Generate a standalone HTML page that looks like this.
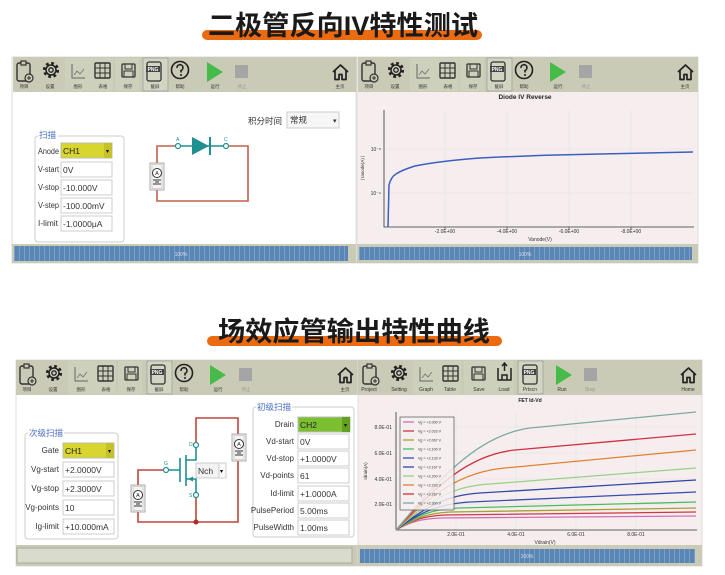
<!DOCTYPE html>
<html><head><meta charset="utf-8"><style>
html,body{margin:0;padding:0;background:#fff;}
svg{display:block;font-family:"Liberation Sans","Noto Sans CJK SC",sans-serif;}
</style></head><body>
<svg width="725" height="575" viewBox="0 0 725 575" xmlns="http://www.w3.org/2000/svg">
<defs>
<pattern id="stripe" x="0" y="0" width="5" height="20" patternUnits="userSpaceOnUse">
<rect width="5" height="20" fill="#5a86b6"/><rect x="4" width="1" height="20" fill="#7aa0c8"/>
</pattern>
<g id="ic1">
 <rect x="0" y="3" width="13" height="18" rx="2" fill="none" stroke="#333" stroke-width="1.4"/>
 <rect x="4" y="1" width="5" height="4" fill="#c9cbb6" stroke="#333" stroke-width="1.2"/>
 <circle cx="12" cy="18" r="4" fill="#c9cbb6" stroke="#333" stroke-width="1.2"/>
 <path d="M10,18h4M12,16v4" stroke="#333" stroke-width="1"/>
</g>
<g id="ic2">
 <circle cx="8" cy="10" r="6.5" fill="none" stroke="#222" stroke-width="3.2" stroke-dasharray="2.6 2.5"/>
 <circle cx="8" cy="10" r="5" fill="none" stroke="#222" stroke-width="1.5"/>
 <circle cx="8" cy="10" r="2.2" fill="none" stroke="#222" stroke-width="1.3"/>
</g>
<g id="ic3">
 <path d="M1,3v14h13" fill="none" stroke="#666" stroke-width="1"/>
 <path d="M3,14l3,-4l3,3l4,-5" fill="none" stroke="#777" stroke-width="0.9"/>
</g>
<g id="ic4">
 <rect x="0" y="2" width="15" height="15" rx="1" fill="none" stroke="#333" stroke-width="1.4"/>
 <path d="M5,2v15M10,2v15M0,7h15M0,12h15" stroke="#333" stroke-width="1"/>
</g>
<g id="ic5">
 <rect x="0" y="3" width="13" height="13" rx="1" fill="none" stroke="#333" stroke-width="1.3"/>
 <rect x="3" y="3" width="7" height="5" fill="none" stroke="#333" stroke-width="1"/>
 <rect x="2" y="10" width="9" height="6" fill="none" stroke="#333" stroke-width="1"/>
</g>
<g id="ic7">
 <circle cx="10" cy="10" r="8.5" fill="none" stroke="#222" stroke-width="1.6"/>
 <path d="M7,8a3,3 0 1,1 4,2.5v2" fill="none" stroke="#222" stroke-width="1.6"/>
 <circle cx="11" cy="15" r="1" fill="#222"/>
</g>
<g id="home">
 <path d="M1,9l7.5,-7l7.5,7M3,7.5v9h4v-5h3v5h4v-9" fill="none" stroke="#222" stroke-width="1.7" stroke-linejoin="round"/>
</g>
<g id="amm">
 <rect x="0" y="0" width="14" height="27" fill="#f4f4f4" stroke="#999" stroke-width="0.8"/>
 <rect x="2" y="1.5" width="10" height="24" fill="none" stroke="#bbb" stroke-width="0.6"/>
 <circle cx="7" cy="10" r="4.5" fill="#fff" stroke="#333" stroke-width="1"/>
 <path d="M3,17h8M5,19h4M3,21h8" stroke="#333" stroke-width="0.9"/>
</g>
</defs>

<!-- titles -->
<rect x="202" y="30" width="280" height="10" rx="5" fill="#ec6a10"/>
<text x="208" y="35" font-size="27" font-weight="bold" fill="#1a1a1a" textLength="270" lengthAdjust="spacingAndGlyphs">二极管反向IV特性测试</text>
<rect x="207" y="336" width="295" height="10" rx="5" fill="#ec6a10"/>
<text x="218" y="341" font-size="27" font-weight="bold" fill="#1a1a1a" textLength="272" lengthAdjust="spacingAndGlyphs">场效应管输出特性曲线</text>

<!-- ============ TOP LEFT ============ -->
<rect x="12" y="57" width="344" height="206" fill="#fff" stroke="#ddd"/>
<g transform="translate(13,57)">
 <rect width="344" height="35" fill="#c9cbb6"/>
 <rect x="52" y="1" width="48" height="33" fill="#cdd0bb"/>
 <rect x="102" y="1" width="24" height="33" fill="#cdd0bb"/>
 <rect x="130" y="1" width="25" height="33" fill="#d3d5c3" stroke="#999" stroke-width="0.7"/>
 <use href="#ic1" x="4" y="3"/><use href="#ic2" x="30" y="3"/><use href="#ic3" x="58" y="4"/><use href="#ic4" x="82" y="4"/><use href="#ic5" x="109" y="4"/>
 <rect x="134" y="5" width="14" height="19" rx="2" fill="none" stroke="#333" stroke-width="1.3"/><rect x="133" y="9" width="14" height="6" fill="#444"/><text x="140" y="14" font-size="5" fill="#fff" text-anchor="middle" font-weight="bold">PNG</text>
 <use href="#ic7" x="157" y="3"/>
 <polygon points="194,5 194,25 210,15" fill="#47bb4a"/>
 <rect x="222" y="8" width="13" height="13" fill="#a5a5a5"/>
 <use href="#home" x="319" y="6"/>
 <g font-size="4.5" fill="#333" text-anchor="middle">
  <text x="11" y="31">项目</text><text x="37" y="31">设置</text><text x="65" y="31">图形</text><text x="90" y="31">表格</text><text x="115" y="31">保存</text><text x="142" y="31">截屏</text><text x="167" y="31">帮助</text><text x="202" y="31">运行</text><text x="229" y="31" fill="#999">停止</text><text x="327" y="31">主页</text>
 </g>
</g>
<text x="248" y="124" font-size="8.5" fill="#333">积分时间</text>
<rect x="287" y="112" width="52" height="16" fill="#f6f6f6" stroke="#ccc"/><text x="290" y="123" font-size="8.5" fill="#333">常规</text><text x="333" y="123" font-size="7" fill="#333">▾</text>
<rect x="35" y="136" width="89" height="106" rx="3" fill="#fff" stroke="#ccc"/>
<rect x="38" y="130" width="20" height="10" fill="#fff"/><text x="39" y="138" font-size="8.5" fill="#4a6fc0">扫描</text>
<g font-size="8" fill="#333" lengthAdjust="spacingAndGlyphs">
 <text x="38" y="154" textLength="21" lengthAdjust="spacingAndGlyphs">Anode</text><text x="38" y="172" textLength="21" lengthAdjust="spacingAndGlyphs">V-start</text><text x="38" y="190" textLength="21" lengthAdjust="spacingAndGlyphs">V-stop</text><text x="38" y="208" textLength="21" lengthAdjust="spacingAndGlyphs">V-step</text><text x="38" y="226" textLength="20" lengthAdjust="spacingAndGlyphs">I-limit</text>
</g>
<rect x="61" y="143" width="51" height="15" fill="#d8d62e" stroke="#bbb"/><rect x="104" y="143" width="8" height="15" fill="#c4c228"/><text x="63" y="154" font-size="8.5" fill="#222">CH1</text><text x="106" y="153" font-size="6">▾</text>
<g fill="#fff" stroke="#ccc"><rect x="61" y="162" width="51" height="15"/><rect x="61" y="180" width="51" height="15"/><rect x="61" y="198" width="51" height="15"/><rect x="61" y="216" width="51" height="15"/></g>
<g font-size="8.5" fill="#333"><text x="63" y="173">0V</text><text x="63" y="191">-10.000V</text><text x="63" y="209">-100.00mV</text><text x="63" y="227">-1.0000μA</text></g>
<!-- diode circuit -->
<path d="M178,146H157V201H248V146H226" fill="none" stroke="#c0604a" stroke-width="1.6"/>
<path d="M178,146H226" stroke="#1e9090" stroke-width="1.6"/>
<polygon points="192,137 192,155 209,146" fill="#1e9090"/><path d="M210,137v18" stroke="#1e9090" stroke-width="2"/>
<circle cx="178" cy="146" r="2.5" fill="#fff" stroke="#1e9090" stroke-width="1.2"/><circle cx="226" cy="146" r="2.5" fill="#fff" stroke="#1e9090" stroke-width="1.2"/>
<text x="176" y="141" font-size="5" fill="#1e9090">A</text><text x="224" y="141" font-size="5" fill="#1e9090">C</text>
<use href="#amm" x="150" y="163"/><text x="157" y="175" font-size="5.5" text-anchor="middle" fill="#222">A</text>
<rect x="12" y="244" width="344" height="19" fill="#c9cbb6"/>
<rect x="14" y="246" width="334" height="15" fill="url(#stripe)"/><text x="181" y="256" font-size="5" fill="#dde" text-anchor="middle">100%</text>

<!-- ============ TOP RIGHT ============ -->
<rect x="357" y="57" width="341" height="206" fill="#f6eeee" stroke="#ddd"/>
<g transform="translate(358,57)">
 <rect width="340" height="35" fill="#c9cbb6"/>
 <rect x="52" y="1" width="48" height="33" fill="#cdd0bb"/>
 <rect x="102" y="1" width="24" height="33" fill="#cdd0bb"/>
 <rect x="129" y="1" width="25" height="33" fill="#d3d5c3" stroke="#999" stroke-width="0.7"/>
 <use href="#ic1" x="4" y="3"/><use href="#ic2" x="30" y="3"/><use href="#ic3" x="58" y="4"/><use href="#ic4" x="82" y="4"/><use href="#ic5" x="109" y="4"/>
 <rect x="133" y="5" width="14" height="19" rx="2" fill="none" stroke="#333" stroke-width="1.3"/><rect x="132" y="9" width="14" height="6" fill="#444"/><text x="139" y="14" font-size="5" fill="#fff" text-anchor="middle" font-weight="bold">PNG</text>
 <use href="#ic7" x="156" y="3"/>
 <polygon points="192,5 192,25 208,15" fill="#47bb4a"/>
 <rect x="221" y="8" width="13" height="13" fill="#a5a5a5"/>
 <use href="#home" x="319" y="6"/>
 <g font-size="4.5" fill="#333" text-anchor="middle">
  <text x="11" y="31">项目</text><text x="37" y="31">设置</text><text x="65" y="31">图形</text><text x="90" y="31">表格</text><text x="115" y="31">保存</text><text x="141" y="31">截屏</text><text x="166" y="31">帮助</text><text x="200" y="31">运行</text><text x="228" y="31" fill="#999">停止</text><text x="327" y="31">主页</text>
 </g>
</g>
<text x="525" y="99" font-size="6.5" font-weight="bold" fill="#222" text-anchor="middle">Diode IV Reverse</text>
<g stroke="#e6e0e0" stroke-width="0.6"><path d="M445,110V227M507,110V227M569,110V227M631,110V227M384,149H693M384,193H693"/></g>
<path d="M384,110V227H694" fill="none" stroke="#333" stroke-width="0.8"/>
<g stroke="#333" stroke-width="0.6"><path d="M445,227v3M507,227v3M569,227v3M631,227v3"/></g>
<g font-size="5" fill="#333" text-anchor="middle"><text x="445" y="233">-2.0E+00</text><text x="507" y="233">-4.0E+00</text><text x="569" y="233">-6.0E+00</text><text x="631" y="233">-8.0E+00</text><text x="540" y="241">Vanode(V)</text></g>
<g font-size="5" fill="#333" text-anchor="end"><text x="381" y="151">10⁻⁸</text><text x="381" y="195">10⁻⁹</text></g>
<text x="364" y="168" font-size="4.5" fill="#333" transform="rotate(-90 364 168)" text-anchor="middle">| Ianode(A) |</text>
<path d="M388,227L389,185Q391,177 396,174Q402,170 415,166Q440,161 480,158Q540,155 600,154Q650,153 693,152" fill="none" stroke="#3b5fc0" stroke-width="1.5"/>
<rect x="357" y="244" width="341" height="19" fill="#c9cbb6"/>
<rect x="359" y="247" width="333" height="13" fill="url(#stripe)"/><text x="525" y="256" font-size="5" fill="#dde" text-anchor="middle">100%</text>

<!-- ============ BOTTOM LEFT ============ -->
<rect x="16" y="360" width="342" height="206" fill="#fff" stroke="#ddd"/>
<g transform="translate(16,360)">
 <rect width="342" height="35" fill="#c9cbb6"/>
 <rect x="52" y="1" width="48" height="33" fill="#cdd0bb"/>
 <rect x="102" y="1" width="24" height="33" fill="#cdd0bb"/>
 <rect x="131" y="1" width="25" height="33" fill="#d3d5c3" stroke="#999" stroke-width="0.7"/>
 <use href="#ic1" x="4" y="3"/><use href="#ic2" x="30" y="3"/><use href="#ic3" x="58" y="4"/><use href="#ic4" x="82" y="4"/><use href="#ic5" x="109" y="4"/>
 <rect x="135" y="5" width="14" height="19" rx="2" fill="none" stroke="#333" stroke-width="1.3"/><rect x="134" y="9" width="14" height="6" fill="#444"/><text x="141" y="14" font-size="5" fill="#fff" text-anchor="middle" font-weight="bold">PNG</text>
 <use href="#ic7" x="158" y="3"/>
 <polygon points="194,5 194,25 210,15" fill="#47bb4a"/>
 <rect x="223" y="8" width="13" height="13" fill="#a5a5a5"/>
 <use href="#home" x="321" y="6"/>
 <g font-size="4.5" fill="#333" text-anchor="middle">
  <text x="11" y="31">项目</text><text x="37" y="31">设置</text><text x="65" y="31">图形</text><text x="90" y="31">表格</text><text x="115" y="31">保存</text><text x="143" y="31">截屏</text><text x="168" y="31">帮助</text><text x="202" y="31">运行</text><text x="230" y="31" fill="#999">停止</text><text x="329" y="31">主页</text>
 </g>
</g>
<!-- 次级扫描 -->
<rect x="25" y="433" width="93" height="106" rx="3" fill="#fff" stroke="#ccc"/>
<rect x="28" y="427" width="36" height="10" fill="#fff"/><text x="29" y="436" font-size="8.5" fill="#4a6fc0">次级扫描</text>
<g font-size="8" fill="#333" text-anchor="end">
 <text x="59" y="453">Gate</text><text x="59" y="472">Vg-start</text><text x="59" y="491">Vg-stop</text><text x="59" y="510">Vg-points</text><text x="59" y="529">Ig-limit</text>
</g>
<rect x="63" y="443" width="51" height="15" fill="#d8d62e" stroke="#bbb"/><rect x="106" y="443" width="8" height="15" fill="#c4c228"/><text x="65" y="454" font-size="8.5" fill="#222">CH1</text><text x="108" y="453" font-size="6">▾</text>
<g fill="#fff" stroke="#ccc"><rect x="63" y="462" width="51" height="15"/><rect x="63" y="481" width="51" height="15"/><rect x="63" y="500" width="51" height="15"/><rect x="63" y="519" width="51" height="15"/></g>
<g font-size="8.5" fill="#333"><text x="65" y="473">+2.0000V</text><text x="65" y="492">+2.3000V</text><text x="65" y="511">10</text><text x="65" y="530">+10.000mA</text></g>
<!-- 初级扫描 -->
<rect x="253" y="407" width="101" height="130" rx="3" fill="#fff" stroke="#ccc"/>
<rect x="256" y="401" width="36" height="10" fill="#fff"/><text x="257" y="410" font-size="8.5" fill="#4a6fc0">初级扫描</text>
<g font-size="8" fill="#333" text-anchor="end">
 <text x="294" y="427">Drain</text><text x="294" y="444">Vd-start</text><text x="294" y="461">Vd-stop</text><text x="294" y="478">Vd-points</text><text x="294" y="496">Id-limit</text><text x="294" y="513">PulsePeriod</text><text x="294" y="530">PulseWidth</text>
</g>
<rect x="298" y="417" width="52" height="15" fill="#7cc032" stroke="#bbb"/><rect x="342" y="417" width="8" height="15" fill="#62a020"/><text x="300" y="428" font-size="8.5" fill="#222">CH2</text><text x="344" y="427" font-size="6">▾</text>
<g fill="#fff" stroke="#ccc"><rect x="298" y="434" width="51" height="15"/><rect x="298" y="451" width="51" height="15"/><rect x="298" y="468" width="51" height="15"/><rect x="298" y="486" width="51" height="15"/><rect x="298" y="503" width="51" height="15"/><rect x="298" y="520" width="51" height="15"/></g>
<g font-size="8.5" fill="#333"><text x="300" y="445">0V</text><text x="300" y="462">+1.0000V</text><text x="300" y="479">61</text><text x="300" y="497">+1.0000A</text><text x="300" y="514">5.00ms</text><text x="300" y="531">1.00ms</text></g>
<!-- FET circuit -->
<path d="M196,445V418H238V522H138V470H166M196,495V522" fill="none" stroke="#c0443a" stroke-width="1.6"/>
<circle cx="196" cy="522" r="2.5" fill="#b02a2a"/>
<g stroke="#1e9090" stroke-width="1.6" fill="none">
 <path d="M168,470H180M180,458V482M186,455V486M186,460H196V447M186,479H196V493"/>
</g>
<polygon points="188,479 193,476.5 193,481.5" fill="#1e9090"/>
<circle cx="166" cy="470" r="2.5" fill="#fff" stroke="#1e9090" stroke-width="1.2"/>
<circle cx="196" cy="445" r="2.5" fill="#fff" stroke="#1e9090" stroke-width="1.2"/>
<circle cx="196" cy="495" r="2.5" fill="#fff" stroke="#1e9090" stroke-width="1.2"/>
<text x="164" y="465" font-size="5" fill="#1e9090">G</text><text x="189" y="446" font-size="5" fill="#1e9090">D</text><text x="189" y="497" font-size="5" fill="#1e9090">S</text>
<rect x="196" y="463" width="30" height="15" fill="#f2f2f2" stroke="#ccc"/><rect x="219" y="463" width="7" height="15" fill="#fafafa" stroke="#ccc"/><text x="198" y="474" font-size="8.5" fill="#333">Nch</text><text x="220" y="473" font-size="6">▾</text>
<use href="#amm" x="131" y="485"/><text x="138" y="497" font-size="5.5" text-anchor="middle" fill="#222">A</text>
<use href="#amm" x="232" y="434"/><text x="239" y="446" font-size="5.5" text-anchor="middle" fill="#222">A</text>
<rect x="16" y="545" width="342" height="21" fill="#c9cbb6"/>
<rect x="17" y="548" width="335" height="15" fill="#d9dbcc" stroke="#a9ab9a"/>

<!-- ============ BOTTOM RIGHT ============ -->
<rect x="358" y="360" width="344" height="206" fill="#f6eeee" stroke="#ddd"/>
<g transform="translate(358,360)">
 <rect width="344" height="35" fill="#c9cbb6"/>
 <rect x="55" y="1" width="48" height="33" fill="#cdd0bb"/>
 <rect x="106" y="1" width="50" height="33" fill="#cdd0bb"/>
 <rect x="160" y="1" width="25" height="33" fill="#d3d5c3" stroke="#999" stroke-width="0.7"/>
 <use href="#ic1" x="5" y="3"/><use href="#ic2" x="33" y="3"/><use href="#ic3" x="61" y="4"/><use href="#ic4" x="85" y="4"/><use href="#ic5" x="114" y="4"/>
 <g stroke="#222" stroke-width="1.5" fill="none"><path d="M140,8v12h13v-12M144,20v-5h5v5M146.5,3v8M144,6l2.5,-3l2.5,3"/></g>
 <rect x="165" y="5" width="14" height="19" rx="2" fill="none" stroke="#333" stroke-width="1.3"/><rect x="164" y="9" width="14" height="6" fill="#444"/><text x="171" y="14" font-size="5" fill="#fff" text-anchor="middle" font-weight="bold">PNG</text>
 <polygon points="198,5 198,25 214,15" fill="#47bb4a"/>
 <rect x="226" y="8" width="13" height="13" fill="#a5a5a5"/>
 <use href="#home" x="322" y="6"/>
 <g font-size="5" fill="#333" text-anchor="middle">
  <text x="11" y="31">Project</text><text x="41" y="31">Setting</text><text x="68" y="31">Graph</text><text x="92" y="31">Table</text><text x="121" y="31">Save</text><text x="146" y="31">Load</text><text x="172" y="31">Prtscn</text><text x="204" y="31">Run</text><text x="232" y="31" fill="#999">Stop</text><text x="330" y="31">Home</text>
 </g>
</g>
<text x="530" y="402" font-size="5" font-weight="bold" fill="#222" text-anchor="middle">FET Id-Vd</text>
<g stroke="#e6e0e0" stroke-width="0.6"><path d="M456,412V530M516,412V530M576,412V530M636,412V530M396,427H696M396,453H696M396,479H696M396,504H696"/></g>
<path d="M396,412V530H697" fill="none" stroke="#333" stroke-width="0.8"/>
<g font-size="5" fill="#333" text-anchor="middle"><text x="456" y="536">2.0E-01</text><text x="516" y="536">4.0E-01</text><text x="576" y="536">6.0E-01</text><text x="636" y="536">8.0E-01</text><text x="545" y="544">Vdrain(V)</text></g>
<g font-size="5" fill="#333" text-anchor="end"><text x="392" y="429">8.0E-01</text><text x="392" y="455">6.0E-01</text><text x="392" y="481">4.0E-01</text><text x="392" y="506">2.0E-01</text></g>
<text x="367" y="471" font-size="4.5" fill="#333" transform="rotate(-90 367 471)" text-anchor="middle">Idrain(A)</text>
<g fill="none" stroke-width="1.3">
 <path d="M396,530C410,522 420,519 440,518L696,516" stroke="#d070b8"/>
 <path d="M396,530C412,520 424,516 445,515L696,512" stroke="#d03848"/>
 <path d="M396,530C415,518 428,513 450,512L696,508" stroke="#a6a032"/>
 <path d="M396,530C418,515 432,509 458,508L696,502" stroke="#44c060"/>
 <path d="M396,530C420,512 438,504 470,502L696,492" stroke="#3850b0"/>
 <path d="M396,530C424,508 445,495 480,493L696,480" stroke="#3048a8"/>
 <path d="M396,530C428,502 450,486 490,484L696,468" stroke="#98d088"/>
 <path d="M396,530C432,494 460,472 505,468L696,450" stroke="#e08030"/>
 <path d="M396,530C436,486 468,455 515,450L696,434" stroke="#d03040"/>
 <path d="M396,530C440,478 478,435 530,428L696,412" stroke="#7fa8a0"/>
</g>
<rect x="400" y="417" width="54" height="93" fill="#f6eeee" fill-opacity="0.85" stroke="#555" stroke-width="0.7"/>
<g stroke-width="1.3">
 <path d="M403,422h11" stroke="#d070b8"/><path d="M403,431h11" stroke="#d03848"/><path d="M403,440h11" stroke="#a6a032"/><path d="M403,449h11" stroke="#44c060"/><path d="M403,458h11" stroke="#3850b0"/><path d="M403,467h11" stroke="#3048a8"/><path d="M403,476h11" stroke="#98d088"/><path d="M403,485h11" stroke="#e08030"/><path d="M403,494h11" stroke="#d03040"/><path d="M403,503h11" stroke="#7fa8a0"/>
</g>
<g font-size="3.6" fill="#333">
 <text x="418" y="423.5">Vg = +2.000 V</text><text x="418" y="432.5">Vg = +2.033 V</text><text x="418" y="441.5">Vg = +2.067 V</text><text x="418" y="450.5">Vg = +2.100 V</text><text x="418" y="459.5">Vg = +2.133 V</text><text x="418" y="468.5">Vg = +2.167 V</text><text x="418" y="477.5">Vg = +2.200 V</text><text x="418" y="486.5">Vg = +2.233 V</text><text x="418" y="495.5">Vg = +2.267 V</text><text x="418" y="504.5">Vg = +2.300 V</text>
</g>
<rect x="358" y="545" width="344" height="21" fill="#c9cbb6"/>
<rect x="360" y="549" width="335" height="14" fill="url(#stripe)"/><text x="527" y="558" font-size="5" fill="#dde" text-anchor="middle">100%</text>
</svg>
</body></html>
